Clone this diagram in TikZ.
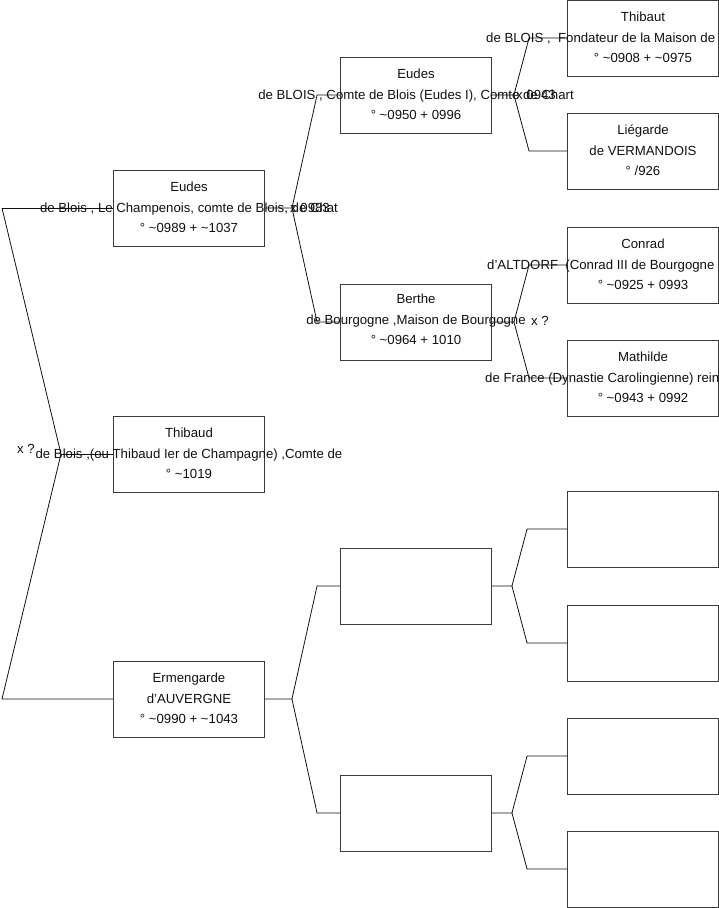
\documentclass[tikz,border=0pt]{standalone}
\usepackage{fontspec}
\setmainfont{Liberation Sans}
\usetikzlibrary{calc,positioning}
\definecolor{ink}{HTML}{101010}
\definecolor{boxline}{HTML}{3A3A3A}

\begin{document}
\begin{tikzpicture}[
  x=1pt,y=-1pt,
  font=\fontsize{13.2}{15}\selectfont,
  pbox/.style={draw=boxline,line width=0.9pt,minimum width=151pt,
               minimum height=76pt,inner sep=0pt},
  link/.style={draw=ink,line width=0.8pt},
  ptext/.style={text=ink,inner sep=0pt,anchor=base},
  cuttext/.style={text=ink,inner sep=0pt,anchor=base west},
  mlabel/.style={text=ink,inner sep=0pt,anchor=base west}
]
\useasboundingbox (0,0) rectangle (719,908);

% -------------------------------------------------------------------------
% Generation 1.
\node[pbox] (eudesA) at (189,208) {};
\node[ptext] (eudesAn) at ($(eudesA)+(0,-17)$) {Eudes};
\node[ptext] (eudesAd) at ($(eudesA)+(0,4)$) {de Blois , Le Champenois, comte de Blois, de Chat};
\node[ptext] (eudesAb) at ($(eudesA)+(0,24)$) {° \textasciitilde 0989 + \textasciitilde 1037};

\node[pbox] (thibA) at (189,454) {};
\node[ptext] (thibAn) at ($(thibA)+(0,-17)$) {Thibaud};
\node[ptext] (thibAd) at ($(thibA)+(0,4)$) {de Blois ,(ou Thibaud Ier de Champagne) ,Comte de};
\node[ptext] (thibAb) at ($(thibA)+(0,24)$) {° \textasciitilde 1019};

\node[pbox] (ermA) at (189,699) {};
\node[ptext] (ermAn) at ($(ermA)+(0,-17)$) {Ermengarde};
\node[ptext] (ermAd) at ($(ermA)+(0,4)$) {d'AUVERGNE};
\node[ptext] (ermAb) at ($(ermA)+(0,24)$) {° \textasciitilde 0990 + \textasciitilde 1043};

% -------------------------------------------------------------------------
% Generation 2.
\node[pbox] (eudesB) at (416,95) {};
\node[ptext] (eudesBn) at ($(eudesB)+(0,-17)$) {Eudes};
\node[ptext] (eudesBd) at ($(eudesB)+(0,4)$) {de BLOIS , Comte de Blois (Eudes I), Comte de Chart};
\node[ptext] (eudesBb) at ($(eudesB)+(0,24)$) {° \textasciitilde 0950 + 0996};

\node[pbox] (bertheB) at (416,322) {};
\node[ptext] (bertheBn) at ($(bertheB)+(0,-19)$) {Berthe};
\node[ptext] (bertheBd) at ($(bertheB)+(0,2)$) {de Bourgogne ,Maison de Bourgogne};
\node[ptext] (bertheBb) at ($(bertheB)+(0,22)$) {° \textasciitilde 0964 + 1010};

\node[pbox] (emptyB) at (416,586) {};
\node[pbox] (emptyC) at (416,813) {};

% -------------------------------------------------------------------------
% Generation 3.
\node[pbox] (thibC) at (643,38) {};
\node[ptext] (thibCn) at ($(thibC)+(0,-17)$) {Thibaut};
\node[cuttext] (thibCd) at (486,42) {de BLOIS ,\ \ Fondateur de la Maison de};
\node[ptext] (thibCb) at ($(thibC)+(0,24)$) {° \textasciitilde 0908 + \textasciitilde 0975};

\node[pbox] (liegC) at (643,151) {};
\node[ptext] (liegCn) at ($(liegC)+(0,-17)$) {Liégarde};
\node[ptext] (liegCd) at ($(liegC)+(0,4)$) {de VERMANDOIS};
\node[ptext] (liegCb) at ($(liegC)+(0,24)$) {° /926};

\node[pbox] (conrC) at (643,265) {};
\node[ptext] (conrCn) at ($(conrC)+(0,-17)$) {Conrad};
\node[cuttext] (conrCd) at (487,269) {d'ALTDORF\ \ (Conrad III de Bourgogne};
\node[ptext] (conrCb) at ($(conrC)+(0,24)$) {° \textasciitilde 0925 + 0993};

\node[pbox] (mathC) at (643,378) {};
\node[ptext] (mathCn) at ($(mathC)+(0,-17)$) {Mathilde};
\node[cuttext] (mathCd) at (485,382) {de France (Dynastie Carolingienne) rein};
\node[ptext] (mathCb) at ($(mathC)+(0,24)$) {° \textasciitilde 0943 + 0992};

\node[pbox] (emptyD) at (643,529) {};
\node[pbox] (emptyE) at (643,643) {};
\node[pbox] (emptyF) at (643,756) {};
\node[pbox] (emptyG) at (643,869) {};

% -------------------------------------------------------------------------
% Forks.
\coordinate (root) at (2,208);
\coordinate (rootmid) at (61,454);
\coordinate (rootlow) at (2,699);
\draw[link] (root) -- (eudesA.west);
\draw[link] (root) -- (rootmid) -- (rootlow) -- (ermA.west);
\draw[link] (rootmid) -- (thibA.west);

\draw[link] (eudesA.east) -- ++(27,0) coordinate (fA)
  -- ($(eudesB.west)+(-23,0)$) -- (eudesB.west);
\draw[link] (fA) -- ($(bertheB.west)+(-23,0)$) -- (bertheB.west);

\draw[link] (ermA.east) -- ++(27,0) coordinate (fE)
  -- ($(emptyB.west)+(-23,0)$) -- (emptyB.west);
\draw[link] (fE) -- ($(emptyC.west)+(-23,0)$) -- (emptyC.west);

\draw[link] (eudesB.east) -- ++(22,0) coordinate (fB)
  -- ($(thibC.west)+(-38,0)$) -- (thibC.west);
\draw[link] (fB) -- ($(liegC.west)+(-38,0)$) -- (liegC.west);

\draw[link] (bertheB.east) -- ++(22,0) coordinate (fC)
  -- ($(conrC.west)+(-38,0)$) -- (conrC.west);
\draw[link] (fC) -- ($(mathC.west)+(-38,0)$) -- (mathC.west);

\draw[link] (emptyB.east) -- ++(20,0) coordinate (fD)
  -- ($(emptyD.west)+(-40,0)$) -- (emptyD.west);
\draw[link] (fD) -- ($(emptyE.west)+(-40,0)$) -- (emptyE.west);

\draw[link] (emptyC.east) -- ++(20,0) coordinate (fF)
  -- ($(emptyF.west)+(-40,0)$) -- (emptyF.west);
\draw[link] (fF) -- ($(emptyG.west)+(-40,0)$) -- (emptyG.west);

% Marriage labels.
\node[mlabel] (mRoot) at (17,453) {x ?};
\node[mlabel] (mEudes) at (290,212) {x 0983};
\node[mlabel] (mThib) at (516,99) {x 0943};
\node[mlabel] (mConr) at (531,325) {x ?};

\end{tikzpicture}
\end{document}
